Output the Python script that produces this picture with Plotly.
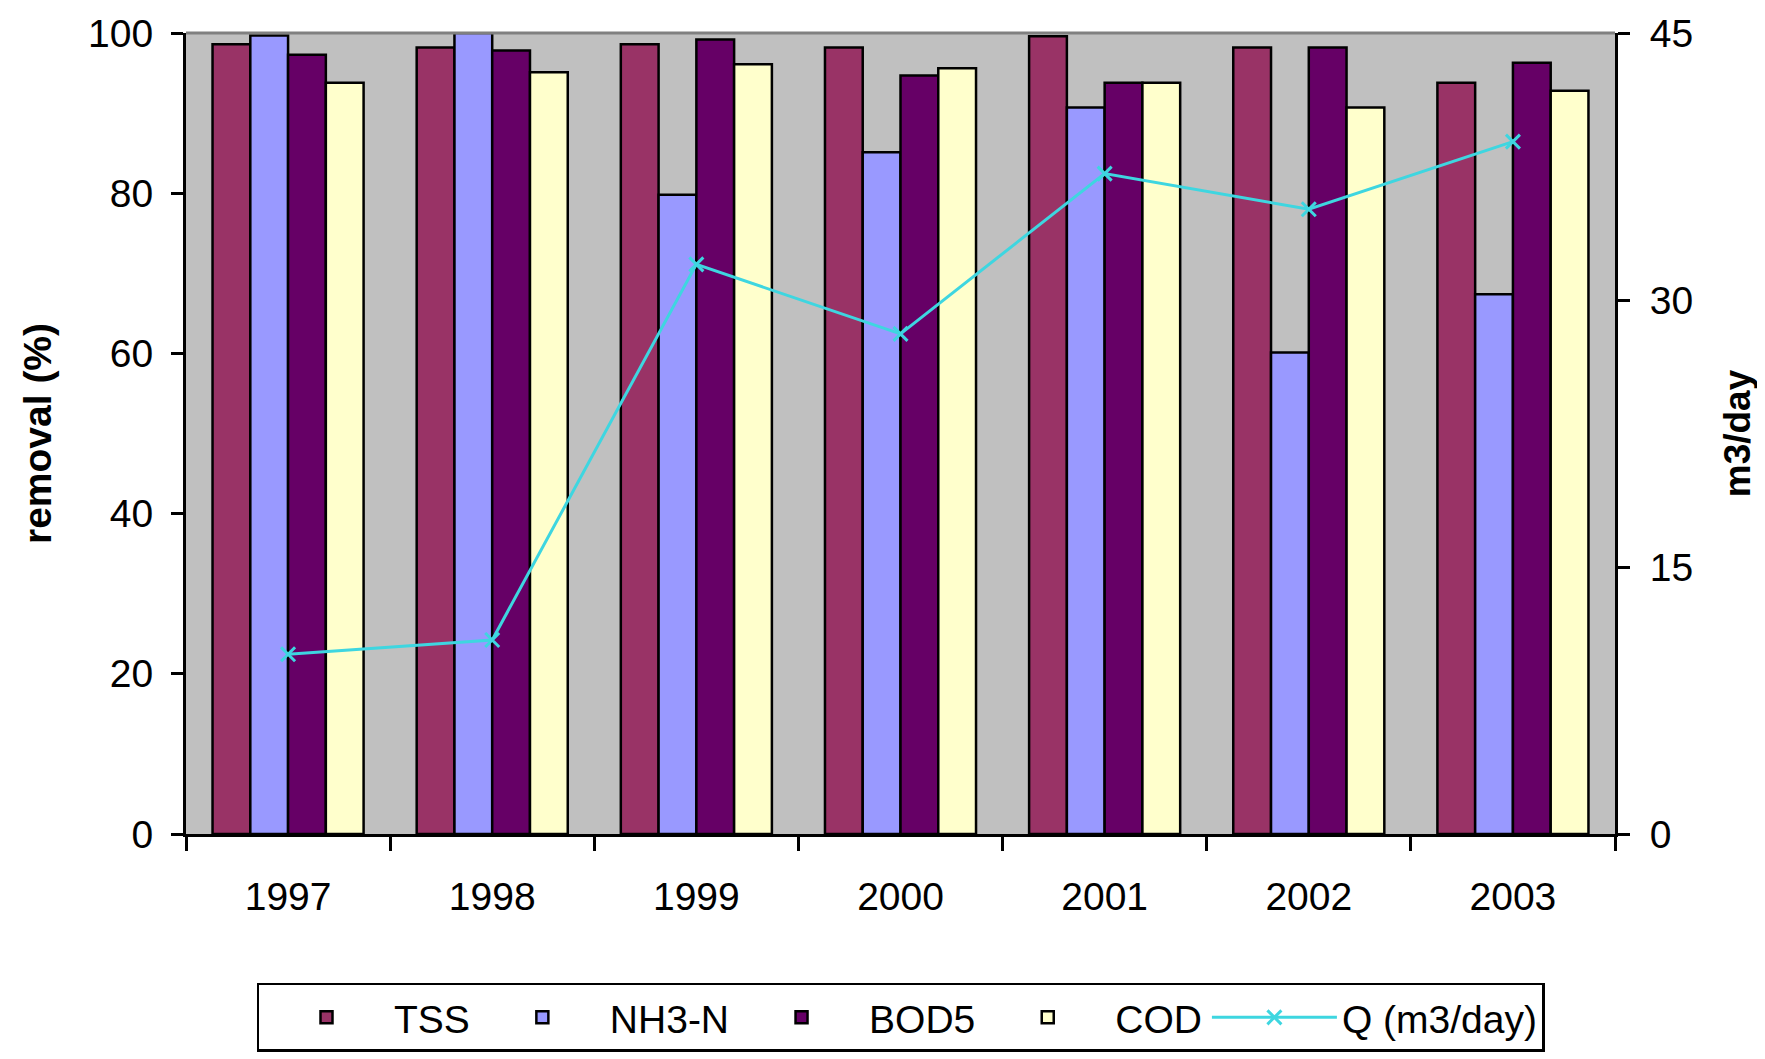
import plotly.graph_objects as go

years = ["1997", "1998", "1999", "2000", "2001", "2002", "2003"]
tss = [98.6, 98.2, 98.6, 98.2, 99.6, 98.2, 93.8]
nh3n = [99.7, 100.0, 79.8, 85.1, 90.7, 60.1, 67.4]
bod5 = [97.3, 97.8, 99.2, 94.7, 93.8, 98.2, 96.3]
cod = [93.8, 95.1, 96.1, 95.6, 93.8, 90.7, 92.8]
q_flow = [10.1, 10.9, 32.0, 28.1, 37.1, 35.1, 38.9]

left_ticks = [0, 20, 40, 60, 80, 100]
right_ticks = [0, 15, 30, 45]

FONT = "Arial, Liberation Sans, sans-serif"
edge = dict(color="black", width=2.5)

fig = go.Figure()
for name, vals, col in [("TSS", tss, "#993366"), ("NH3-N", nh3n, "#9999FF"),
                        ("BOD5", bod5, "#660066"), ("COD", cod, "#FFFFCC")]:
    fig.add_trace(go.Bar(x=years, y=vals, name=name,
                         marker=dict(color=col, line=edge)))

fig.add_trace(go.Scatter(x=years, y=q_flow, name="Q (m3/day)", yaxis="y2",
                         mode="lines+markers",
                         line=dict(color="#3ED6E0", width=3),
                         marker=dict(symbol="x-thin", size=14,
                                     line=dict(color="#3ED6E0", width=3))))

fig.update_layout(
    width=1757, height=1051,
    margin=dict(l=178, r=150, t=25, b=225, autoexpand=False),
    paper_bgcolor="white", plot_bgcolor="#C0C0C0",
    barmode="group", bargap=0.26, bargroupgap=0,
    font=dict(family=FONT, size=39, color="black"),
    showlegend=True,
    legend=dict(orientation="h", x=0.5, xanchor="center", y=-0.186, yanchor="top",
                bordercolor="black", borderwidth=2.5, bgcolor="white",
                font=dict(size=39), traceorder="normal", itemwidth=125),
    xaxis=dict(type="category", showline=True, linecolor="black", linewidth=3,
               ticks="outside", tickson="boundaries", ticklen=14, tickwidth=2.5,
               tickcolor="black", showgrid=False, ticklabelstandoff=26,
               automargin=False),
    yaxis=dict(range=[0, 100], tickvals=left_ticks, showline=True,
               linecolor="black", linewidth=3, ticks="outside", ticklen=12,
               tickwidth=2.5, tickcolor="black", showgrid=False, zeroline=False,
               ticklabelstandoff=10, automargin=False,
               title=dict(text="<b>removal (%)</b>", font=dict(size=39), standoff=25)),
    yaxis2=dict(range=[0, 45], tickvals=right_ticks, overlaying="y", side="right",
                showline=True, linecolor="black", linewidth=3, ticks="outside",
                ticklen=12, tickwidth=2.5, tickcolor="black", showgrid=False,
                zeroline=False, ticklabelstandoff=12, automargin=False,
                title=dict(text="<b>m3/day</b>", font=dict(size=37), standoff=32)),
    shapes=[dict(type="line", xref="paper", yref="paper", x0=0, x1=1, y0=1, y1=1,
                 line=dict(color="#808080", width=3), layer="above")],
)

fig.write_html("out.html")
